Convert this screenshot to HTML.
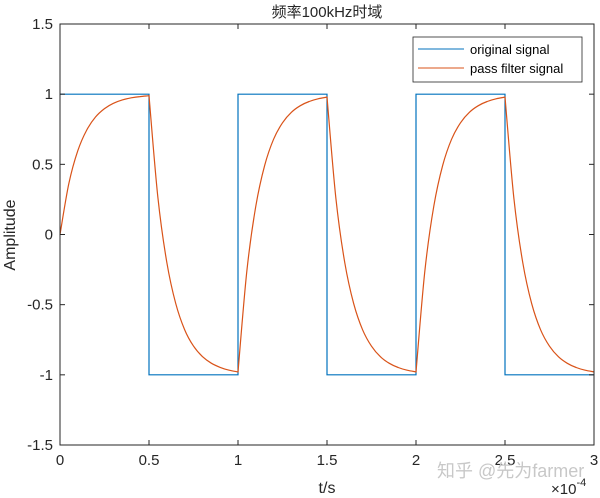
<!DOCTYPE html>
<html><head><meta charset="utf-8"><style>
body{margin:0;background:#fff;}
svg{display:block;font-family:"Liberation Sans","Noto Sans CJK SC",sans-serif;}
</style></head><body>
<svg id="chart" width="600" height="498">
<rect x="0" y="0" width="600" height="498" fill="#fff"/>
<text x="327" y="17" font-size="15" text-anchor="middle" fill="#262626">频率100kHz时域</text>
<g id="series"></g>
<rect x="60" y="24" width="534" height="421" fill="none" stroke="#262626" stroke-width="1"/>
<g id="ticks"></g>
<text x="327" y="493" font-size="16" text-anchor="middle" fill="#262626">t/s</text>
<text transform="translate(15,235) rotate(-90)" font-size="16" text-anchor="middle" fill="#262626">Amplitude</text>
<text x="551" y="494" font-size="15" fill="#262626">×10<tspan dy="-8" font-size="11">-4</tspan></text>
<text x="437" y="477" font-size="18" fill="#c8c8c8">知乎 @先为farmer</text>
<g>
<rect x="413" y="37" width="169" height="45" fill="#fff" stroke="#262626" stroke-width="0.8"/>
<line x1="418" y1="49" x2="464" y2="49" stroke="#0072bd"/>
<text x="470" y="54" font-size="13" fill="#000">original signal</text>
<line x1="418" y1="68" x2="464" y2="68" stroke="#d95319"/>
<text x="470" y="73" font-size="13" fill="#000">pass filter signal</text>
</g>
</svg>
<script>
const xTicks=[0,0.5,1,1.5,2,2.5,3];
const xTickLabels=["0","0.5","1","1.5","2","2.5","3"];
const yTicks=[-1.5,-1,-0.5,0,0.5,1,1.5];
const yTickLabels=["-1.5","-1","-0.5","0","0.5","1","1.5"];
const squareT=[0,0.5,0.5,1,1,1.5,1.5,2,2,2.5,2.5,3];
const squareV=[1,1,-1,-1,1,1,-1,-1,1,1,-1,-1];
const filterStep=0.05;
const filterV=[0,.365,.597,.744,.838,.897,.935,.959,.974,.983,.989,
.263,-.198,-.491,-.678,-.795,-.870,-.917,-.947,-.967,-.979,
-.257,.202,.493,.679,.796,.871,.918,.948,.967,.979,
.257,-.202,-.493,-.679,-.796,-.871,-.918,-.948,-.967,-.979,
-.257,.202,.493,.679,.796,.871,.918,.948,.967,.979,
.257,-.202,-.493,-.679,-.796,-.871,-.918,-.948,-.967,-.979];
const X0=60,X1=594,Y0=445,Y1=24;
const sx=t=>X0+(t-0)/(3-0)*(X1-X0);
const sy=v=>Y0-(v+1.5)/3*(Y0-Y1);
const NS="http://www.w3.org/2000/svg";
const ticks=document.getElementById('ticks');
const ser=document.getElementById('series');
function mk(tag,attrs,parent){const e=document.createElementNS(NS,tag);for(const k in attrs)e.setAttribute(k,attrs[k]);parent.appendChild(e);return e;}
xTicks.forEach((t,i)=>{
  const x=sx(t);
  const a=mk('line',{x1:x,y1:Y0,x2:x,y2:Y0-5,stroke:'#262626'},ticks);
  
  
  const b=mk('line',{x1:x,y1:Y1,x2:x,y2:Y1+5,stroke:'#262626'},ticks);
  
  
  const l=mk('text',{x:x,y:Y0+20,'font-size':15,'text-anchor':'middle',fill:'#262626'},ticks);
  l.textContent=xTickLabels[i];
  
  
});
yTicks.forEach((v,i)=>{
  const y=sy(v);
  const a=mk('line',{x1:X0,y1:y,x2:X0+5,y2:y,stroke:'#262626'},ticks);
  
  
  const b=mk('line',{x1:X1,y1:y,x2:X1-5,y2:y,stroke:'#262626'},ticks);
  
  
  const l=mk('text',{x:X0-7,y:y+5,'font-size':15,'text-anchor':'end',fill:'#262626'},ticks);
  l.textContent=yTickLabels[i];
  
  
});
let d=squareT.map((t,i)=>(i?'L':'M')+sx(t).toFixed(1)+','+sy(squareV[i]).toFixed(1)).join(' ');
const sq=mk('path',{d:d,fill:'none',stroke:'#0072bd','stroke-width':1.2},ser);


const pts=filterV.map((v,i)=>[sx(i*filterStep),sy(v)]);
let fd='M'+pts[0][0].toFixed(1)+','+pts[0][1].toFixed(1);
for(let i=0;i<pts.length-1;i++){
  const seg0=i%10===0, seg1=(i+1)%10===0;
  const p0=seg0?pts[i]:pts[i-1],p1=pts[i],p2=pts[i+1],p3=(seg1||i+2>=pts.length)?pts[i+1]:pts[i+2];
  const c1=[p1[0]+(p2[0]-p0[0])/6,p1[1]+(p2[1]-p0[1])/6];
  const c2=[p2[0]-(p3[0]-p1[0])/6,p2[1]-(p3[1]-p1[1])/6];
  fd+=' C'+c1.map(n=>n.toFixed(1)).join(',')+' '+c2.map(n=>n.toFixed(1)).join(',')+' '+p2.map(n=>n.toFixed(1)).join(',');
}
const fl=mk('path',{d:fd,fill:'none',stroke:'#d95319','stroke-width':1.2},ser);


</script>
</body></html>
